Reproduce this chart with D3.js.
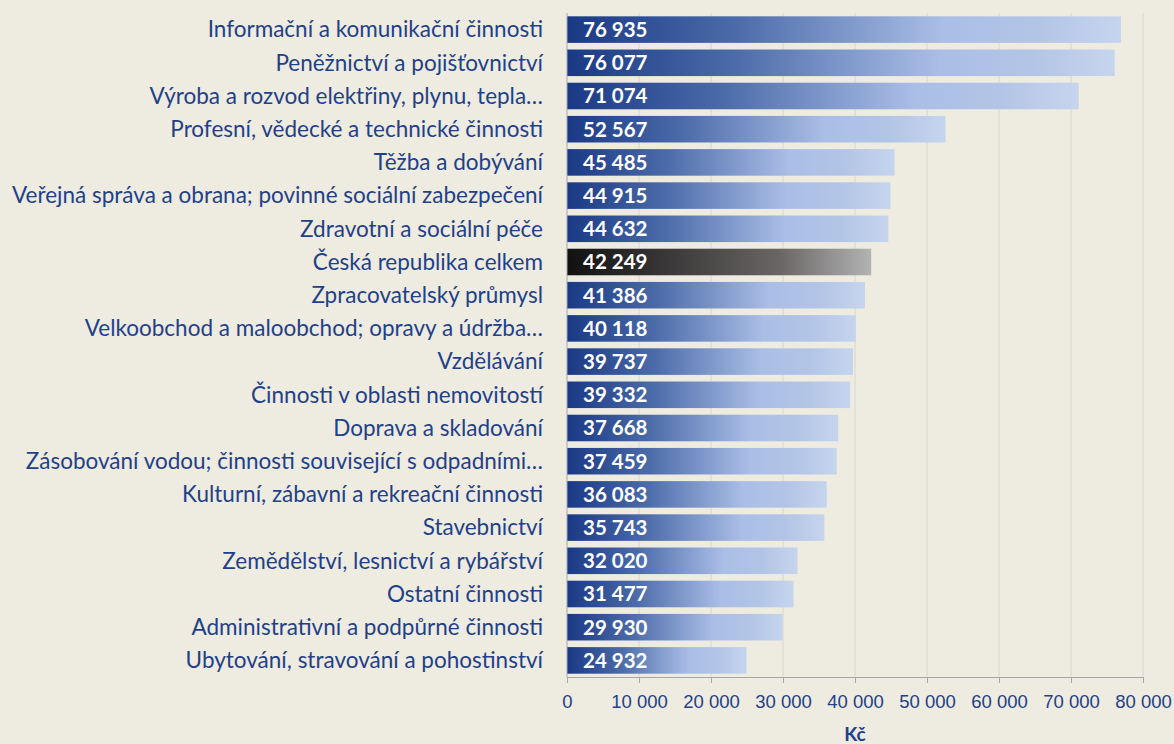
<!DOCTYPE html>
<html>
<head>
<meta charset="utf-8">
<script src="https://cdn.jsdelivr.net/npm/d3@7"></script>
<style>
  body { margin: 0; background: #eeebe1; }
  svg { display: block; font-family: Lato, "Open Sans", sans-serif; }
  .cat { fill: #1f4188; font-size: 22.5px; }
  .val { fill: #ffffff; font-size: 20.5px; font-weight: bold; }
  .tick text { fill: #1f4188; font-size: 18.5px; }
</style>
</head>
<body>
<div id="chart"></div>
<script>
// odvětví (sorted as in the picture)
var categories = [
  "Informační a komunikační činnosti",
  "Peněžnictví a pojišťovnictví",
  "Výroba a rozvod elektřiny, plynu, tepla…",
  "Profesní, vědecké a technické činnosti",
  "Těžba a dobývání",
  "Veřejná správa a obrana; povinné sociální zabezpečení",
  "Zdravotní a sociální péče",
  "Česká republika celkem",
  "Zpracovatelský průmysl",
  "Velkoobchod a maloobchod; opravy a údržba…",
  "Vzdělávání",
  "Činnosti v oblasti nemovitostí",
  "Doprava a skladování",
  "Zásobování vodou; činnosti související s odpadními…",
  "Kulturní, zábavní a rekreační činnosti",
  "Stavebnictví",
  "Zemědělství, lesnictví a rybářství",
  "Ostatní činnosti",
  "Administrativní a podpůrné činnosti",
  "Ubytování, stravování a pohostinství"
];
var wages = [76935, 76077, 71074, 52567, 45485, 44915, 44632, 42249, 41386, 40118,
             39737, 39332, 37668, 37459, 36083, 35743, 32020, 31477, 29930, 24932];
var totalLabel = "Česká republika celkem";
var xTicks = [0, 10000, 20000, 30000, 40000, 50000, 60000, 70000, 80000];
var xTitle = "Kč";

var width = 1174, height = 744;
var margin = {top: 13, right: 31, bottom: 67, left: 567};

var data = categories.map(function(c, i) { return {name: c, value: wages[i]}; });

// czech style thousands: space separator
var fmt = function(v) { return d3.format(",")(v).replace(/,/g, " "); };

var svg = d3.select("#chart").append("svg")
    .attr("width", width)
    .attr("height", height);

var defs = svg.append("defs");
var blue = defs.append("linearGradient").attr("id", "gBlue");
[[0, "#1a3985"], [0.3, "#4a6aa8"], [0.55, "#8aa2d2"], [0.68, "#aabee6"], [0.85, "#b3c5e6"], [1, "#c6d5ee"]]
    .forEach(function(s) { blue.append("stop").attr("offset", s[0]).attr("stop-color", s[1]); });
var dark = defs.append("linearGradient").attr("id", "gDark");
[[0, "#111111"], [0.35, "#3c3a3a"], [0.7, "#6a6666"], [1, "#b3b3b3"]]
    .forEach(function(s) { dark.append("stop").attr("offset", s[0]).attr("stop-color", s[1]); });

var x = d3.scaleLinear()
    .domain([0, 80000])
    .range([margin.left, width - margin.right]);

var y = d3.scaleBand()
    .domain(categories)
    .range([margin.top, height - margin.bottom])
    .paddingInner(0.2)
    .paddingOuter(0.1);

// gridlines
svg.append("g")
    .selectAll("line")
    .data(xTicks.slice(1))
    .join("line")
    .attr("x1", function(d) { return x(d); })
    .attr("x2", function(d) { return x(d); })
    .attr("y1", margin.top)
    .attr("y2", height - margin.bottom)
    .attr("stroke", "#d8d6d0")
    .attr("stroke-width", 1);

// bars
svg.append("g")
    .selectAll("rect")
    .data(data)
    .join("rect")
    .attr("x", x(0))
    .attr("y", function(d) { return y(d.name); })
    .attr("width", function(d) { return x(d.value) - x(0); })
    .attr("height", y.bandwidth())
    .attr("fill", function(d) { return d.name === totalLabel ? "url(#gDark)" : "url(#gBlue)"; });

// value labels inside bars
svg.append("g")
    .selectAll("text")
    .data(data)
    .join("text")
    .attr("class", "val")
    .attr("x", x(0) + 16)
    .attr("y", function(d) { return y(d.name) + y.bandwidth() / 2; })
    .attr("dy", "0.36em")
    .text(function(d) { return fmt(d.value); });

// category labels
svg.append("g")
    .selectAll("text")
    .data(data)
    .join("text")
    .attr("class", "cat")
    .attr("x", margin.left - 24)
    .attr("y", function(d) { return y(d.name) + y.bandwidth() / 2; })
    .attr("dy", "0.35em")
    .attr("text-anchor", "end")
    .text(function(d) { return d.name; });

// left axis line
svg.append("line")
    .attr("x1", x(0)).attr("x2", x(0))
    .attr("y1", margin.top).attr("y2", height - margin.bottom)
    .attr("stroke", "#a6a6a6");

// x axis
var xAxis = d3.axisBottom(x)
    .tickValues(xTicks)
    .tickSize(6)
    .tickPadding(12)
    .tickFormat(fmt);
var gx = svg.append("g")
    .attr("transform", "translate(0," + (height - margin.bottom) + ")")
    .call(xAxis);
gx.select(".domain").attr("stroke", "#a6a6a6");
gx.selectAll(".tick line").attr("stroke", "#a6a6a6");
gx.selectAll(".tick text").attr("font-family", null);

svg.append("text")
    .attr("x", (x(0) + x(80000)) / 2)
    .attr("y", 741)
    .attr("text-anchor", "middle")
    .attr("fill", "#1f4188")
    .attr("font-size", 19)
    .attr("font-weight", "bold")
    .text(xTitle);
</script>
</body>
</html>
